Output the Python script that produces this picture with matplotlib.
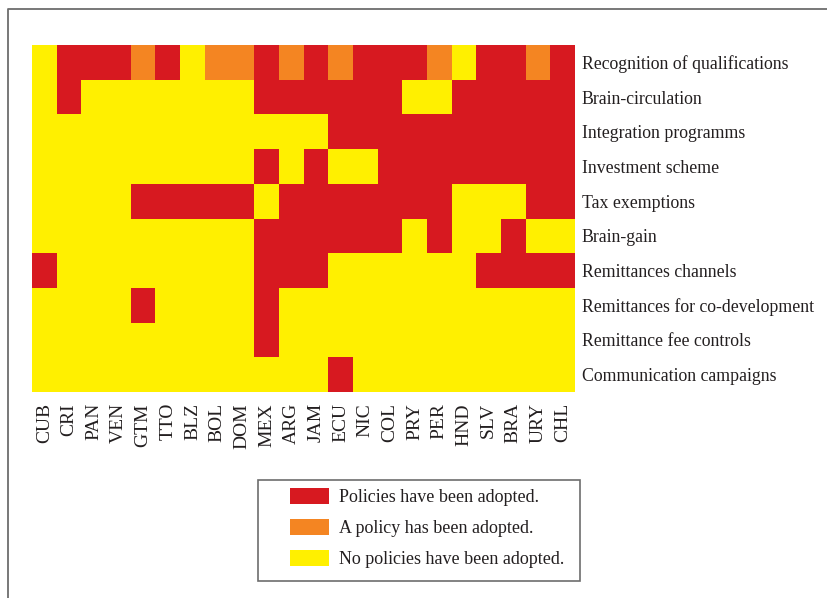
import matplotlib
matplotlib.use("Agg")
import matplotlib.pyplot as plt
import numpy as np
from matplotlib.colors import ListedColormap
from matplotlib.patches import Patch, Rectangle
from matplotlib.lines import Line2D

# country codes (columns) and policy types (rows)
countries = ["CUB", "CRI", "PAN", "VEN", "GTM", "TTO", "BLZ", "BOL", "DOM", "MEX", "ARG",
             "JAM", "ECU", "NIC", "COL", "PRY", "PER", "HND", "SLV", "BRA", "URY", "CHL"]
policies = ["Recognition of qualifications", "Brain-circulation", "Integration programms",
            "Investment scheme", "Tax exemptions", "Brain-gain", "Remittances channels",
            "Remittances for co-development", "Remittance fee controls",
            "Communication campaigns"]

# 0 = no policies, 1 = a policy, 2 = policies adopted
recognition = [0, 2, 2, 2, 1, 2, 0, 1, 1, 2, 1, 2, 1, 2, 2, 2, 1, 0, 2, 2, 1, 2]
circulation = [0, 2, 0, 0, 0, 0, 0, 0, 0, 2, 2, 2, 2, 2, 2, 0, 0, 2, 2, 2, 2, 2]
integration = [0, 0, 0, 0, 0, 0, 0, 0, 0, 0, 0, 0, 2, 2, 2, 2, 2, 2, 2, 2, 2, 2]
investment = [0, 0, 0, 0, 0, 0, 0, 0, 0, 2, 0, 2, 0, 0, 2, 2, 2, 2, 2, 2, 2, 2]
tax = [0, 0, 0, 0, 2, 2, 2, 2, 2, 0, 2, 2, 2, 2, 2, 2, 2, 0, 0, 0, 2, 2]
brain_gain = [0, 0, 0, 0, 0, 0, 0, 0, 0, 2, 2, 2, 2, 2, 2, 0, 2, 0, 0, 2, 0, 0]
rem_channels = [2, 0, 0, 0, 0, 0, 0, 0, 0, 2, 2, 2, 0, 0, 0, 0, 0, 0, 2, 2, 2, 2]
rem_codev = [0, 0, 0, 0, 2, 0, 0, 0, 0, 2, 0, 0, 0, 0, 0, 0, 0, 0, 0, 0, 0, 0]
rem_fee = [0, 0, 0, 0, 0, 0, 0, 0, 0, 2, 0, 0, 0, 0, 0, 0, 0, 0, 0, 0, 0, 0]
campaigns = [0, 0, 0, 0, 0, 0, 0, 0, 0, 0, 0, 0, 2, 0, 0, 0, 0, 0, 0, 0, 0, 0]

legend_labels = ["Policies have been adopted.", "A policy has been adopted.",
                 "No policies have been adopted."]

yellow = "#FFF000"
orange = "#F48522"
red = "#D71920"
text_color = "#231F20"

plt.rcParams["font.family"] = ["Liberation Serif", "DejaVu Serif"]

grid = np.array([recognition, circulation, integration, investment, tax, brain_gain,
                 rem_channels, rem_codev, rem_fee, campaigns])

fig = plt.figure(figsize=(8.27, 5.98), dpi=100)
ax = fig.add_axes([32 / 827, 1 - 392 / 598, 543 / 827, 347 / 598])

cmap = ListedColormap([yellow, orange, red])
ax.pcolormesh(grid, cmap=cmap, vmin=-0.5, vmax=2.5)
ax.set_xlim(0, len(countries))
ax.set_ylim(len(policies), 0)

ax.set_xticks(np.arange(len(countries)) + 0.5)
ax.set_xticklabels(countries, rotation=90, fontsize=14, color=text_color)
ax.set_yticks(np.arange(len(policies)) + 0.5)
ax.set_yticklabels(policies, fontsize=12.8, color=text_color)
ax.yaxis.tick_right()
ax.tick_params(axis="x", length=0, pad=8)
ax.tick_params(axis="y", length=0, pad=5)
for s in ax.spines.values():
    s.set_visible(False)

# outer frame (left and top)
fig.add_artist(Line2D([7.5 / 827, 7.5 / 827, 1], [0, 1 - 8.5 / 598, 1 - 8.5 / 598],
                      transform=fig.transFigure, color="#6d6d6d", lw=1.3))

# legend box
fig.add_artist(Rectangle((258 / 827, 1 - 581 / 598), 322 / 827, 101 / 598,
                         transform=fig.transFigure, fill=False, edgecolor="#6d6d6d", lw=1.2))
handles = [Patch(facecolor=c, edgecolor="none") for c in [red, orange, yellow]]
leg = fig.legend(handles, legend_labels, loc="upper left",
                 bbox_to_anchor=(290 / 827, 1 - 488 / 598), frameon=False,
                 fontsize=13, handlelength=2.15, handleheight=0.95,
                 handletextpad=0.55, labelspacing=0.72, borderpad=0, borderaxespad=0)
for t in leg.get_texts():
    t.set_color(text_color)

plt.savefig("out.png", dpi=100)
